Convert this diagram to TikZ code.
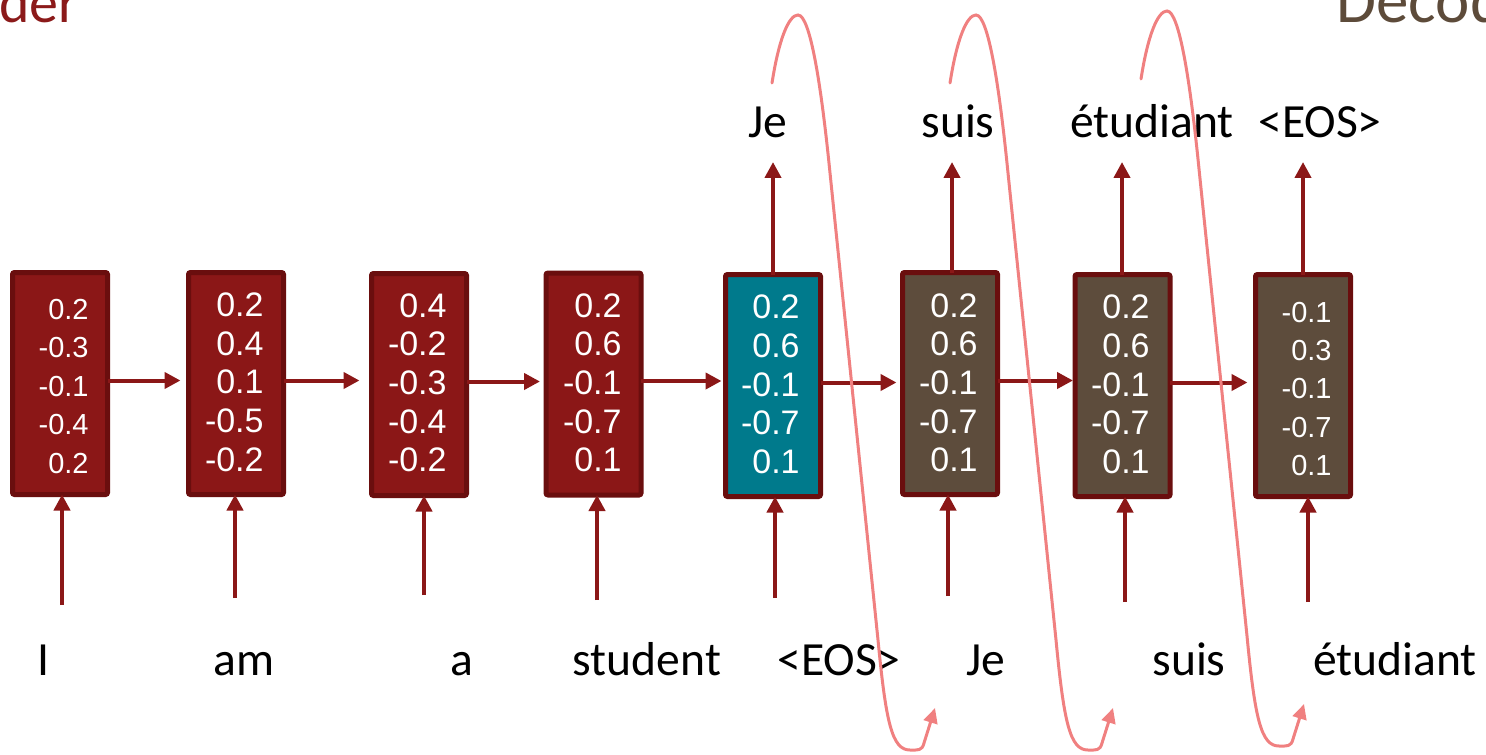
\documentclass[tikz,border=0pt]{standalone}
\usepackage{fontspec}
\setmainfont{Carlito}
\newfontfamily\numfont{Liberation Sans}
\usetikzlibrary{arrows.meta}
\definecolor{encred}{RGB}{139,23,23}
\definecolor{encborder}{RGB}{106,14,14}
\definecolor{decbrown}{RGB}{93,76,60}
\definecolor{tealcell}{RGB}{0,122,140}
\definecolor{pinkline}{RGB}{240,128,128}
\definecolor{titlered}{RGB}{139,26,26}
\definecolor{titlebrown}{RGB}{93,75,58}
\begin{document}
\begin{tikzpicture}[x=0.5pt,y=-0.5pt,
  cell/.style={draw=encborder, line width=2.5pt, rounded corners=1pt,
    minimum width=47.5pt, minimum height=111pt, inner sep=0pt, outer sep=0pt},
  enccell/.style={cell, fill=encred},
  curcell/.style={cell, fill=tealcell},
  deccell/.style={cell, fill=decbrown},
  numbig/.style={text=white, inner sep=0pt, anchor=base east, font=\numfont\fontsize{17}{20}\selectfont},
  numsmall/.style={text=white, inner sep=0pt, anchor=base east, font=\numfont\fontsize{14.5}{17}\selectfont},
  word/.style={inner sep=0pt, anchor=base, font=\fontsize{23.8}{28}\selectfont},
  arr/.style={draw=encred, line width=2pt, -{Triangle[length=8pt,width=8pt]}},
  rec/.style={arr, transform canvas={yshift=1.5pt}},
  pinkarc/.style={draw=pinkline, line width=1.5pt, line cap=round, -{Triangle[length=7.5pt,width=7pt]}},
  backarc/.pic={\draw[pinkarc] (0,0) .. controls (7,-45) and (17,-68) .. (26,-68)
      .. controls (38,-68) and (49,0) .. (58,90) -- (106,557)
      .. controls (114,640) and (120,667) .. (138,667)
      .. controls (146,667) and (150,668) .. (152,660) -- (163,625);}
]
\useasboundingbox (0,0) rectangle (1486,754);

% titles (cut off by the page edge, as in the reference)
\node[inner sep=0pt, anchor=base east, text=titlered, font=\fontsize{29}{34}\selectfont] (enc) at (79,23) {Encoder};
\node[inner sep=0pt, anchor=base west, text=titlebrown, font=\fontsize{32.5}{38}\selectfont] (dec) at (1336,23) {Decoder};

% cells
\node[enccell] (b1) at (60,383.5) {};
\node[enccell] (b2) at (236,383.5) {};
\node[enccell] (b3) at (419,384.5) {};
\node[enccell] (b4) at (593.5,384) {};
\node[curcell] (b5) at (773,385.5) {};
\node[deccell] (b6) at (950,383.5) {};
\node[deccell] (b7) at (1122.5,385.5) {};
\node[deccell] (b8) at (1303,385.5) {};

% numbers
\foreach \v [count=\k from 0] in {0.2,-0.3,-0.1,-0.4,0.2}
  \node[numsmall] (n1-\k) at (89,319.4+38.4*\k) {\v};
\foreach \v [count=\k from 0] in {0.2,0.4,0.1,-0.5,-0.2}
  \node[numbig] (n2-\k) at (264,316.7+38.6*\k) {\v};
\foreach \v [count=\k from 0] in {0.4,-0.2,-0.3,-0.4,-0.2}
  \node[numbig] (n3-\k) at (447,317.2+38.6*\k) {\v};
\foreach \v [count=\k from 0] in {0.2,0.6,-0.1,-0.7,0.1}
  \node[numbig] (n4-\k) at (622,317.2+38.6*\k) {\v};
\foreach \v [count=\k from 0] in {0.2,0.6,-0.1,-0.7,0.1}
  \node[numbig] (n5-\k) at (800,318.9+38.6*\k) {\v};
\foreach \v [count=\k from 0] in {0.2,0.6,-0.1,-0.7,0.1}
  \node[numbig] (n6-\k) at (978,317.2+38.6*\k) {\v};
\foreach \v [count=\k from 0] in {0.2,0.6,-0.1,-0.7,0.1}
  \node[numbig] (n7-\k) at (1150,318.9+38.6*\k) {\v};
\foreach \v [count=\k from 0] in {-0.1,0.3,-0.1,-0.7,0.1}
  \node[numsmall] (n8-\k) at (1332,322.1+38.4*\k) {\v};

% recurrent arrows (horizontal)
\draw[rec, shorten >=4pt] (b1.east) -- (b1.east -| b2.west);
\draw[rec, shorten >=6pt] (b2.east) -- (b2.east -| b3.west);
\draw[rec, shorten >=3pt] (b3.east) -- (b3.east -| b4.west);
\draw[rec, shorten >=2pt] (b4.east) -- (b4.east -| b5.west);
\draw[rec, shorten >=3pt] (b5.east) -- (b5.east -| b6.west);
\draw[rec, shorten >=1pt] (b6.east) -- (b6.east -| b7.west);
\draw[rec, shorten >=4pt] (b7.east) -- (b7.east -| b8.west);

% input arrows
\coordinate (u1) at (62,605);
\coordinate (u2) at (235,598);
\coordinate (u3) at (424,595);
\coordinate (u4) at (597,600);
\coordinate (u5) at (775,598);
\coordinate (u6) at (948,596);
\coordinate (u7) at (1125,602);
\coordinate (u8) at (1308,602);
\foreach \i in {1,...,8}
  \draw[arr] (u\i) -- (u\i |- b\i.south);

% output arrows
\coordinate (t5) at (773,162);
\coordinate (t6) at (952,162);
\coordinate (t7) at (1122,162);
\coordinate (t8) at (1303,162);
\foreach \i in {5,...,8}
  \draw[arr] (t\i |- b\i.north) -- (t\i);

% output words
\node[word] (o5) at (768,138) {Je};
\node[word] (o6) at (958,138) {suis};
\node[word] (o7) at (1152,138) {étudiant};
\node[word] (o8) at (1320,138) {<EOS>};

% input words
\node[word] (i1) at (43,675) {I};
\node[word] (i2) at (244,675) {am};
\node[word] (i3) at (462,675) {a};
\node[word] (i4) at (647,675) {student};
\node[word] (i5) at (839,675) {<EOS>};
\node[word] (i6) at (986,675) {Je};
\node[word] (i7) at (1189,675) {suis};
\node[word] (i8) at (1395,675) {étudiant};

% feedback arcs from each output word to the next input
\coordinate (a5) at (772,83);
\coordinate (a6) at (950,83);
\coordinate (a7) at (1141,79);
\pic at (a5) {backarc};
\pic at (a6) {backarc};
\pic at (a7) {backarc};
\end{tikzpicture}
\end{document}
